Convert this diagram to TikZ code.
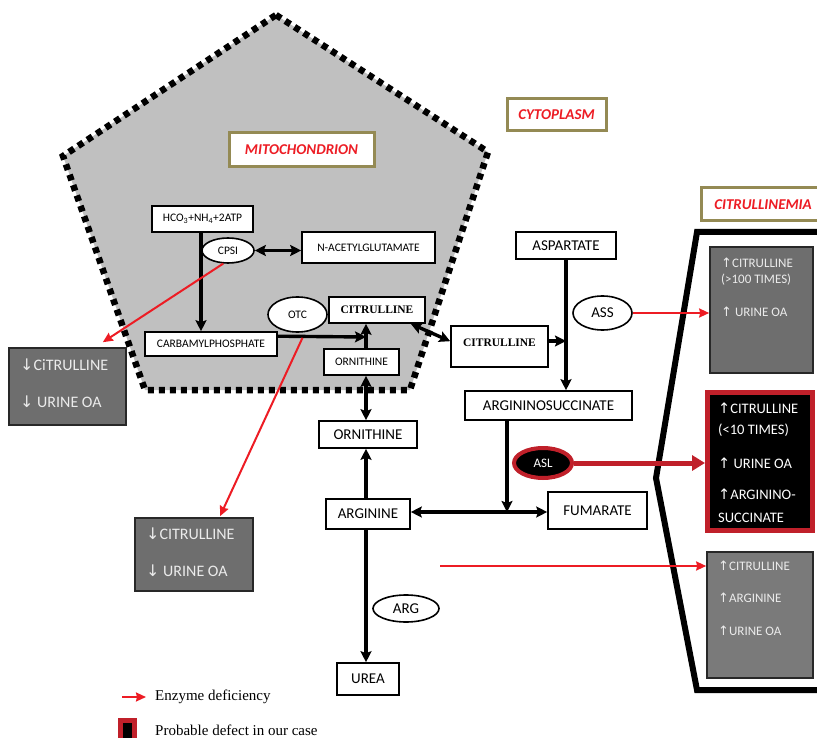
\documentclass[tikz,border=0pt]{standalone}
\usepackage{fontspec}
\setmainfont{Liberation Serif}
\setsansfont{Carlito}
\newfontfamily\arrowfont{DejaVu Sans}
\usetikzlibrary{arrows.meta,shapes.geometric}
\definecolor{tred}{RGB}{237,28,36}
\definecolor{dred}{RGB}{192,32,42}
\definecolor{olivebd}{RGB}{148,138,84}
\definecolor{mitofill}{RGB}{192,192,192}
\definecolor{gfill}{RGB}{110,110,110}
\definecolor{gfillb}{RGB}{122,122,122}
\definecolor{gborder}{RGB}{40,40,40}
\definecolor{gtext}{RGB}{235,235,235}
\newcommand{\ua}{{\arrowfont\char"2191}}
\newcommand{\da}{{\arrowfont\char"2193}}
\tikzset{
 bx/.style={draw=black, line width=1.6pt, fill=white, inner sep=0pt, font=\sffamily\fontsize{15}{15}\selectfont},
 sm/.style={font=\sffamily\fontsize{11.5}{11.5}\selectfont},
 sb/.style={font=\bfseries\fontsize{11.5}{11.5}\selectfont},
 enz/.style={ellipse, draw=black, line width=1.6pt, fill=white, inner sep=0pt, font=\sffamily\fontsize{15}{15}\selectfont},
 lbl/.style={draw=olivebd, line width=3pt, fill=white, inner sep=0pt},
 lbltxt/.style={inner sep=0pt, text=tred, font=\sffamily\bfseries\itshape\fontsize{15}{15}\selectfont},
 gbox/.style={draw=gborder, line width=1.6pt, fill=gfill, inner sep=0pt},
 gtxt/.style={anchor=west, inner sep=0pt, text=gtext, font=\sffamily\fontsize{13}{13}\selectfont},
 arr/.style={line width=3.4pt, -{Stealth[length=11pt,width=11pt,inset=2pt]}},
 darr/.style={line width=3.4pt, {Stealth[length=11pt,width=11pt,inset=2pt]}-{Stealth[length=11pt,width=11pt,inset=2pt]}},
 redarr/.style={draw=tred, line width=2pt, -{Stealth[length=10pt,width=9pt,inset=1pt]}},
 aslarr/.style={draw=dred, line width=5pt, -{Triangle[length=13pt,width=15pt]}},
 legtxt/.style={anchor=west, inner sep=0pt, font=\fontsize{15}{15}\selectfont},
}
\begin{document}
\begin{tikzpicture}[x=1pt,y=-1pt]
\useasboundingbox (0,0) rectangle (817,738);
% mitochondrion
\draw[fill=mitofill, line width=6.5pt, dash pattern=on 6pt off 5pt] (276,15) -- (488,152) -- (410,390) -- (145,390) -- (63,156) -- cycle;
% bracket
\draw[line width=6pt, line join=miter] (830,232) -- (697,232) -- (656,478) -- (697,690) -- (830,690);
% labels
\node[lbl, minimum width=145pt, minimum height=34pt] (mitob) at (301.5,150) {};
\node[lbltxt] (mitot) at (301.5,150) {MITOCHONDRION};
\node[lbl, minimum width=99pt, minimum height=32pt] (cytob) at (556.5,115) {};
\node[lbltxt] (cytot) at (556.5,115) {CYTOPLASM};
\node[lbl, minimum width=129pt, minimum height=33pt] (citlb) at (765.5,204.5) {};
\node[lbltxt] (citlt) at (763,204.5) {CITRULLINEMIA};
% nodes
\node[bx, sm, minimum width=101pt, minimum height=26pt] (hco) at (202.5,219) {HCO\textsubscript{3}+NH\textsubscript{4}+2ATP};
\node[bx, sm, minimum width=133pt, minimum height=31pt] (nag) at (368.5,247.5) {N-ACETYLGLUTAMATE};
\node[bx, sm, minimum width=132pt, minimum height=24pt] (carb) at (211,344) {CARBAMYLPHOSPHATE};
\node[bx, sb, minimum width=96pt, minimum height=26pt] (citm) at (377,310) {CITRULLINE};
\node[bx, sm, minimum width=75pt, minimum height=26pt] (ornm) at (361.5,362) {ORNITHINE};
\node[bx, minimum width=98pt, minimum height=27pt] (ornc) at (368,434.5) {ORNITHINE};
\node[bx, minimum width=84pt, minimum height=30pt] (arg) at (368,514) {ARGININE};
\node[bx, minimum width=99pt, minimum height=37pt] (fum) at (597.5,510.5) {FUMARATE};
\node[bx, minimum width=167pt, minimum height=29pt] (asuc) at (548.5,405.5) {ARGININOSUCCINATE};
\node[bx, minimum width=100pt, minimum height=27pt] (asp) at (566,245.5) {ASPARTATE};
\node[bx, sb, minimum width=97pt, minimum height=41pt] (citc) at (499.5,346.5) {\raisebox{8pt}{CITRULLINE}};
\node[bx, minimum width=62pt, minimum height=32pt] (urea) at (368,679) {UREA};
% coordinates
\coordinate (jm) at (366,337);
\coordinate (ja) at (566,341);
\coordinate (jf) at (507,512);
\coordinate (rs) at (440,566);
% black arrows
\draw[arr] ([xshift=-1.5pt]hco.south) -- ([xshift=-1.5pt]hco.south |- carb.north);
\draw[arr] ([yshift=-5pt]carb.north east) -- (jm);
\draw[arr] (ornm.north -| jm) -- (citm.south -| jm);
\draw[darr] (ornm.south -| jm) -- (ornc.north -| jm);
\draw[arr] (arg.north -| jm) -- (ornc.south -| jm);
\draw[arr] (arg.south -| jm) -- (urea.north -| jm);
\draw[darr] ([xshift=-15pt]citm.south east) -- ([yshift=-16pt]citc.north west);
\draw[arr] (asp.south) -- (asp.south |- asuc.north);
\draw[arr] (citc.east |- ja) -- (ja);
\draw[arr] (asuc.south -| jf) -- (jf);
\draw[darr] (arg.east |- jf) -- (fum.west |- jf);
% enzymes
\node[enz, sm, minimum width=52pt, minimum height=25pt] (cpsi) at (228,250.5) {CPSI};
\draw[darr] (cpsi.east) -- (cpsi.east -| nag.west);
\node[enz, sm, minimum width=59pt, minimum height=35pt] (otc) at (297.5,314.5) {OTC};
\node[enz, minimum width=59pt, minimum height=34pt] (ass) at (602.5,313) {ASS};
\node[enz, minimum width=66pt, minimum height=27pt] (arge) at (406,608.5) {ARG};
\node[ellipse, draw=dred, line width=4pt, fill=black, inner sep=0pt, minimum width=58pt, minimum height=30pt, text=white, font=\sffamily\fontsize{13}{13}\selectfont] (asl) at (543,463) {ASL};
% result boxes
\node[gbox, minimum width=117pt, minimum height=77pt] (l1) at (67.5,386.5) {};
\node[gtxt, font=\sffamily\fontsize{16}{16}\selectfont] (l1a) at (20,365) {\da CiTRULLINE};
\node[gtxt, font=\sffamily\fontsize{16}{16}\selectfont] (l1b) at (20,402) {\da\ URINE OA};
\node[gbox, minimum width=118pt, minimum height=73pt] (l2) at (194,554.5) {};
\node[gtxt, font=\sffamily\fontsize{16}{16}\selectfont] (l2a) at (146,534) {\da CITRULLINE};
\node[gtxt, font=\sffamily\fontsize{16}{16}\selectfont] (l2b) at (146,571) {\da\ URINE OA};
\node[gbox, minimum width=103pt, minimum height=126pt] (r1) at (761.5,310) {};
\node[gtxt] (r1a) at (721,263) {\ua CITRULLINE};
\node[gtxt] (r1b) at (721,280) {(>100 TIMES)};
\node[gtxt] (r1c) at (721,312) {\ua\ URINE OA};
\node[draw=dred, line width=5pt, fill=black, inner sep=0pt, minimum width=105pt, minimum height=138pt] (r2) at (760,461.5) {};
\node[gtxt, text=white, font=\sffamily\fontsize{14.5}{14.5}\selectfont] (r2a) at (718,408) {\ua CITRULLINE};
\node[gtxt, text=white, font=\sffamily\fontsize{14.5}{14.5}\selectfont] (r2b) at (718,430) {(<10 TIMES)};
\node[gtxt, text=white, font=\sffamily\fontsize{14.5}{14.5}\selectfont] (r2c) at (718,463) {\ua\ URINE OA};
\node[gtxt, text=white, font=\sffamily\fontsize{14.5}{14.5}\selectfont] (r2d) at (718,494) {\ua ARGININO-};
\node[gtxt, text=white, font=\sffamily\fontsize{14.5}{14.5}\selectfont] (r2e) at (718,518) {SUCCINATE};
\node[gbox, fill=gfillb, minimum width=106pt, minimum height=126pt] (r3) at (760,615) {};
\node[gtxt] (r3a) at (718,566) {\ua CITRULLINE};
\node[gtxt] (r3b) at (718,598) {\ua ARGININE};
\node[gtxt] (r3c) at (718,631) {\ua URINE OA};
% red arrows
\draw[redarr] (cpsi.250) -- ([xshift=-24pt,yshift=5pt]l1.north east);
\draw[redarr] ([xshift=5pt,yshift=-5pt]otc.south) -- ([xshift=26pt,yshift=1pt]l2.north);
\draw[redarr] (ass.east) -- (ass.east -| r1.west);
\draw[redarr] (rs) -- (rs -| r3.west);
\draw[aslarr] (asl.east) -- (asl.east -| r2.west);
% legend
\coordinate (lg1) at (122,697);
\draw[redarr] (lg1) -- ++(24,0);
\node[legtxt] (legA) at (155,697) {Enzyme deficiency};
\node[draw=dred, line width=5pt, fill=black, inner sep=0pt, minimum width=14pt, minimum height=22pt] (legsq) at (127.5,731) {};
\node[legtxt] (legB) at (155,730) {Probable defect in our case};
\end{tikzpicture}
\end{document}
